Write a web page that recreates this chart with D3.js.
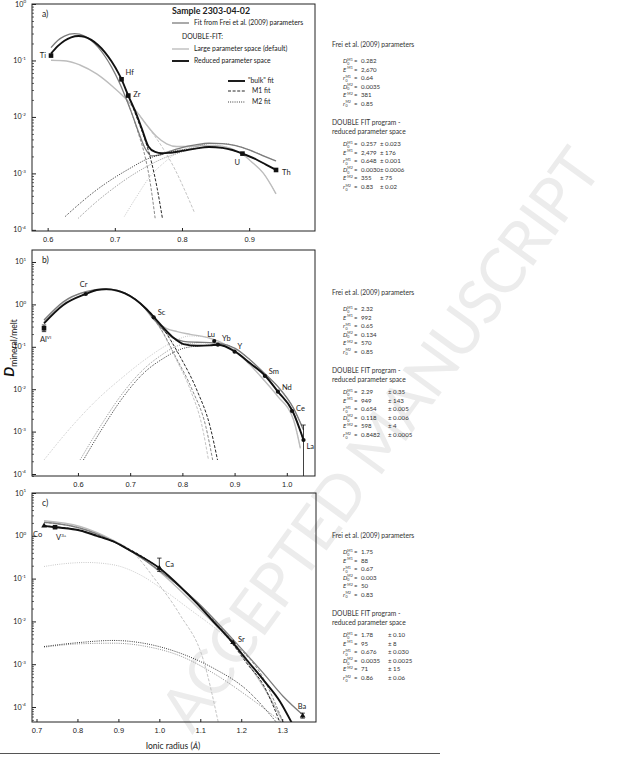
<!DOCTYPE html>
<html>
<head>
<meta charset="utf-8">
<script src="https://cdn.jsdelivr.net/npm/d3@7/dist/d3.min.js"></script>
<style>
  body { margin: 0; background: #fff; }
  svg { font-family: Lato, 'Liberation Sans', sans-serif; }
</style>
</head>
<body>
<svg id="chart" width="631" height="759"></svg>
<script>
// Data: [ionic radius (A), D mineral/melt]
// ------------------------------------------------------------

// Panel a
const aElements = ['Ti', 'Hf', 'Zr', 'U', 'Th']
const aRadius = [0.605, 0.71, 0.72, 0.89, 0.94]
const aD = [0.122, 0.0464, 0.0239, 0.00224, 0.00115]

const aReducedBulk = [[0.605,0.132],[0.615,0.179],[0.625,0.224],[0.635,0.257],[0.646,0.271],[0.655,0.262],[0.665,0.232],[0.675,0.188],[0.685,0.141],[0.695,0.0967],[0.705,0.0609],[0.71,0.0464],[0.72,0.0239],[0.73,0.0129],[0.74,0.0063],[0.75,0.0030],[0.76,0.0024],[0.77,0.00228],[0.78,0.00231],[0.80,0.0025],[0.82,0.00275],[0.84,0.00294],[0.86,0.00283],[0.875,0.0026],[0.89,0.00224],[0.91,0.00178],[0.925,0.00143],[0.94,0.00115]]
const aFreiBulk = [[0.605,0.169],[0.615,0.226],[0.625,0.27],[0.64,0.298],[0.655,0.27],[0.665,0.226],[0.675,0.172],[0.685,0.12],[0.695,0.0769],[0.705,0.045],[0.715,0.024],[0.725,0.0118],[0.735,0.0055],[0.745,0.00279],[0.755,0.00204],[0.765,0.0021],[0.78,0.00243],[0.80,0.00287],[0.82,0.00319],[0.84,0.00342],[0.86,0.00337],[0.88,0.00311],[0.90,0.0026],[0.92,0.00207],[0.94,0.00166]]
const aLargeBulk = [[0.605,0.1007],[0.628,0.098],[0.648,0.0832],[0.673,0.0577],[0.698,0.0335],[0.718,0.02],[0.7325,0.0124],[0.7474,0.00721],[0.7623,0.00449],[0.7772,0.00333],[0.792,0.00299],[0.812,0.00299],[0.832,0.00311],[0.852,0.00311],[0.8715,0.00279],[0.89,0.00218],[0.906,0.00151],[0.921,0.00101],[0.94,0.000434]]
const aReducedM1 = [[0.72,0.0239],[0.735,0.00827],[0.745,0.00392],[0.755,0.00151],[0.763,0.000546],[0.7708,0.000161]]
const aFreiM1 = [[0.715,0.024],[0.725,0.0118],[0.735,0.00514],[0.745,0.00199],[0.752,0.000767],[0.76,0.000161]]
const aLargeM1 = [[0.735,0.0115],[0.7474,0.00721],[0.77,0.00299],[0.79,0.00115],[0.805,0.000477],[0.819,0.000197]]
const aReducedM2 = [[0.626,0.000172],[0.6485,0.000297],[0.673,0.000511],[0.698,0.00082],[0.7226,0.00123],[0.7474,0.00178],[0.7722,0.00221],[0.797,0.0026],[0.82,0.00275],[0.84,0.00294],[0.86,0.00283],[0.89,0.00224],[0.94,0.00115]]
const aFreiM2 = [[0.6457,0.000161],[0.673,0.000317],[0.698,0.000546],[0.7226,0.000879],[0.7474,0.00132],[0.7722,0.00185],[0.797,0.00234],[0.822,0.0030],[0.84,0.00335],[0.86,0.00337],[0.88,0.00311],[0.90,0.0026],[0.94,0.00166]]
const aLargeM2 = [[0.7142,0.000173],[0.7325,0.000389],[0.7524,0.000879],[0.7722,0.00151],[0.792,0.00228],[0.812,0.0029],[0.832,0.0031],[0.852,0.0031],[0.8715,0.00279],[0.89,0.00218],[0.906,0.00151],[0.921,0.00101],[0.94,0.000434]]

// Panel b
const bElements = ['Al', 'Cr', 'Sc', 'Lu', 'Yb', 'Y', 'Sm', 'Nd', 'Ce', 'La']
const bRadius = [0.535, 0.615, 0.745, 0.861, 0.868, 0.90, 0.958, 0.983, 1.01, 1.032]
const bD = [0.273, 1.76, 0.495, 0.137, 0.112, 0.0767, 0.0205, 0.00875, 0.00306, 0.000634]
const bErrors = {Al: [0.228, 0.327], La: [0.00001, 0.00143]}

const bReducedBulk = [[0.535,0.357],[0.572,0.968],[0.615,1.76],[0.636,2.19],[0.654,2.29],[0.675,2.11],[0.69,1.81],[0.71,1.30],[0.73,0.80],[0.746,0.495],[0.764,0.28],[0.783,0.164],[0.802,0.116],[0.828,0.106],[0.853,0.108],[0.869,0.112],[0.901,0.0767],[0.93,0.0407],[0.959,0.0205],[0.983,0.00875],[1.011,0.00306],[1.032,0.000634]]
const bFreiBulk = [[0.535,0.429],[0.572,1.16],[0.615,2.0],[0.65,2.32],[0.675,2.15],[0.69,1.85],[0.71,1.32],[0.73,0.78],[0.745,0.46],[0.764,0.25],[0.783,0.16],[0.802,0.135],[0.828,0.128],[0.853,0.125],[0.872,0.12],[0.901,0.092],[0.93,0.0489],[0.956,0.0245],[0.983,0.0115],[1.013,0.00354],[1.032,0.00109]]
const bLargeBulk = [[0.535,0.39],[0.572,1.1],[0.615,1.95],[0.655,2.2],[0.68,2.0],[0.70,1.6],[0.72,1.05],[0.746,0.43],[0.77,0.27],[0.79,0.228],[0.815,0.197],[0.847,0.167],[0.869,0.136],[0.901,0.08],[0.93,0.037],[0.956,0.0165],[0.983,0.0067],[1.013,0.00188],[1.026,0.000403]]
const bReducedM1 = [[0.746,0.495],[0.764,0.258],[0.7957,0.0585],[0.8277,0.00957],[0.8532,0.0013],[0.8673,0.000214]]
const bFreiM1 = [[0.745,0.46],[0.76,0.25],[0.787,0.0585],[0.819,0.00957],[0.845,0.0013],[0.858,0.000214]]
const bLargeM1 = [[0.746,0.43],[0.76,0.24],[0.785,0.06],[0.815,0.0098],[0.838,0.0013],[0.85,0.000214]]
const bReducedM2 = [[0.6104,0.000214],[0.6487,0.0013],[0.6871,0.00667],[0.7254,0.0237],[0.7638,0.0535],[0.8021,0.092],[0.8404,0.107],[0.869,0.11],[0.901,0.0767],[0.93,0.0407],[0.959,0.0205],[0.983,0.00875],[1.011,0.00306],[1.032,0.000634]]
const bFreiM2 = [[0.604,0.000214],[0.6424,0.0013],[0.6807,0.00667],[0.719,0.0245],[0.7574,0.0607],[0.7957,0.11],[0.834,0.125],[0.853,0.125],[0.872,0.12],[0.901,0.092],[0.93,0.0489],[0.956,0.0245],[0.983,0.0115],[1.013,0.00354],[1.032,0.00109]]
const bLargeM2 = [[0.535,0.000214],[0.5848,0.00119],[0.636,0.00556],[0.6871,0.0198],[0.7318,0.0535],[0.7765,0.12],[0.8149,0.18],[0.847,0.167],[0.869,0.136],[0.901,0.08],[0.93,0.037],[0.956,0.0165],[0.983,0.0067],[1.013,0.00188],[1.026,0.000403]]

// Panel c
const cElements = ['Co', 'V', 'Ca', 'Sr', 'Ba']
const cRadius = [0.7185, 0.7453, 1.0, 1.18, 1.35]
const cD = [1.71, 1.59, 0.176, 0.00322, 0.0000623]
const cErrors = {V: [1.5, 1.68], Ca: [0.147, 0.301], Ba: [0.000055, 0.000072]}

const cReducedBulk = [[0.7185,1.71],[0.7453,1.59],[0.8063,1.33],[0.847,1.0],[0.8877,0.737],[0.9284,0.454],[1.0,0.176],[1.0504,0.0655],[1.0911,0.0267],[1.1318,0.00996],[1.179,0.00322],[1.2132,0.00127],[1.2539,0.000432],[1.2946,0.000135],[1.323,0.0000435]]
const cFreiBulk = [[0.7185,2.05],[0.7453,1.95],[0.8063,1.51],[0.8877,0.737],[1.0,0.155],[1.0911,0.0292],[1.179,0.00385],[1.2539,0.000618],[1.3027,0.000176],[1.3474,0.0000693]]
const cLargeBulk = [[0.7185,2.24],[0.8063,1.65],[0.8877,0.778],[1.0,0.147],[1.0911,0.0223],[1.179,0.0031],[1.2539,0.000302],[1.3027,0.0000435]]
const cReducedM1 = [[0.7185,1.7],[0.8063,1.33],[0.8877,0.73],[1.0,0.174],[1.0911,0.0262],[1.179,0.003],[1.2132,0.00106],[1.2539,0.00033],[1.2946,0.0000435]]
const cFreiM1 = [[0.7185,2.05],[0.8063,1.51],[0.8877,0.737],[1.0,0.153],[1.0911,0.0285],[1.179,0.0035],[1.2539,0.000472],[1.3027,0.0000435]]
const cLargeM1 = [[0.7185,2.12],[0.8063,1.51],[0.8714,0.882],[0.9284,0.471],[0.9935,0.0857],[1.0504,0.0143],[1.1074,0.00127],[1.144,0.0000435]]
const cReducedM2 = [[0.7185,0.00259],[0.8063,0.00322],[0.8877,0.00359],[0.969,0.003],[1.0504,0.00182],[1.1318,0.00081],[1.2132,0.000252],[1.2864,0.0000435]]
const cFreiM2 = [[0.7185,0.0025],[0.8063,0.003],[0.8877,0.0031],[0.969,0.00259],[1.0504,0.00157],[1.1318,0.000618],[1.2132,0.000185],[1.30,0.0000435]]
const cLargeM2 = [[0.7185,0.192],[0.7657,0.222],[0.8226,0.238],[0.8877,0.21],[0.9528,0.123],[1.0098,0.0547],[1.0749,0.019],[1.14,0.0065],[1.179,0.0031],[1.2539,0.000302],[1.3027,0.0000435]]

// Fit parameters shown to the right of each panel
const paramSymbols = [['D','M1'], ['E','M1'], ['r','M1'], ['D','M2'], ['E','M2'], ['r','M2']]
const aFreiParams = ['0.282', '2,670', '0.64', '0.0035', '381', '0.85']
const aFitParams = ['0.257', '2,479', '0.648', '0.0030', '355', '0.83']
const aFitErrors = ['0.023', '176', '0.001', '0.0006', '75', '0.02']
const bFreiParams = ['2.32', '992', '0.65', '0.134', '570', '0.85']
const bFitParams = ['2.29', '949', '0.654', '0.118', '598', '0.8482']
const bFitErrors = ['0.35', '143', '0.005', '0.006', '4', '0.0005']
const cFreiParams = ['1.75', '88', '0.67', '0.003', '50', '0.83']
const cFitParams = ['1.78', '95', '0.676', '0.0035', '71', '0.86']
const cFitErrors = ['0.10', '8', '0.030', '0.0025', '15', '0.06']

// Styles
// ------
const fitStyle = {
  large: {color: '#bdbdbd', width: 1.4},
  frei: {color: '#7c7c7c', width: 1.3},
  reduced: {color: '#111', width: 1.9}
}
const partStyle = {
  bulk: null,
  M1: '3,1.6',
  M2: '0.9,1.3'
}

const svg = d3.select('#chart')

// Watermark of the accepted manuscript
svg.append('text')
  .attr('transform', 'translate(398,452) rotate(-54)')
  .attr('text-anchor', 'middle')
  .attr('font-size', 62)
  .attr('textLength', 700)
  .attr('lengthAdjust', 'spacing')
  .style('fill', '#ececec')
  .text('ACCEPTED MANUSCRIPT')

/**
 * Draw one panel: frame, log axis, fit curves and measured points
 */
function drawPanel(cfg) {
  const x = d3.scaleLinear().domain(cfg.rDomain).range([cfg.x0, cfg.x1])
  const y = d3.scaleLog().domain(cfg.dDomain).range([cfg.y1, cfg.y0])
  const g = svg.append('g')

  const clipId = 'clip-' + cfg.tag
  svg.append('clipPath').attr('id', clipId)
    .append('rect')
    .attr('x', cfg.x0).attr('y', cfg.y0)
    .attr('width', cfg.x1 - cfg.x0).attr('height', cfg.y1 - cfg.y0)

  const line = d3.line()
    .x(d => x(d[0]))
    .y(d => y(d[1]))
    .curve(d3.curveMonotoneX)

  const curves = g.append('g').attr('clip-path', 'url(#' + clipId + ')')
  cfg.curves.forEach(([data, fit, part]) => {
    const s = fitStyle[fit]
    curves.append('path')
      .attr('d', line(data))
      .attr('fill', 'none')
      .attr('stroke', s.color)
      .attr('stroke-width', part === 'bulk' ? s.width : 0.9)
      .attr('stroke-dasharray', partStyle[part])
  })

  // error bars
  const bars = g.append('g').attr('clip-path', 'url(#' + clipId + ')')
  Object.keys(cfg.errors || {}).forEach(el => {
    const i = cfg.elements.indexOf(el)
    const px = x(cfg.radius[i])
    const [lo, hi] = cfg.errors[el]
    bars.append('line')
      .attr('x1', px).attr('x2', px)
      .attr('y1', y(lo)).attr('y2', y(hi))
      .attr('stroke', '#111').attr('stroke-width', 0.8)
    ;[lo, hi].forEach(v => {
      bars.append('line')
        .attr('x1', px - 2.2).attr('x2', px + 2.2)
        .attr('y1', y(v)).attr('y2', y(v))
        .attr('stroke', '#111').attr('stroke-width', 0.8)
    })
  })

  // markers and element labels
  cfg.elements.forEach((el, i) => {
    const px = x(cfg.radius[i])
    const py = y(cfg.d[i])
    const shape = cfg.marker(el)
    if (shape === 'square') {
      g.append('rect')
        .attr('x', px - 2.3).attr('y', py - 2.3)
        .attr('width', 4.6).attr('height', 4.6)
        .attr('fill', '#111')
    } else if (shape === 'circle') {
      g.append('circle')
        .attr('cx', px).attr('cy', py).attr('r', 2.1)
        .attr('fill', '#111')
    } else {
      g.append('path')
        .attr('d', d3.symbol(d3.symbolTriangle, 14)())
        .attr('transform', 'translate(' + px + ',' + py + ')')
        .attr('fill', '#111')
    }
    const [dx, dy, anchor] = cfg.labelOffsets[el]
    const t = g.append('text')
      .attr('x', px + dx).attr('y', py + dy)
      .attr('text-anchor', anchor || 'start')
      .attr('font-size', 7.5)
      .style('fill', '#222')
      .text(el)
    if (cfg.labelSup && cfg.labelSup[el]) {
      t.append('tspan').attr('font-size', 4.5).attr('dy', -3).text(cfg.labelSup[el])
    }
  })

  // frame
  g.append('rect')
    .attr('x', cfg.x0).attr('y', cfg.y0)
    .attr('width', cfg.x1 - cfg.x0).attr('height', cfg.y1 - cfg.y0)
    .attr('fill', 'none').attr('stroke', '#222').attr('stroke-width', 1)

  // x axis, ticks pointing inward
  const xAxis = d3.axisBottom(x)
    .tickValues(cfg.xTicks)
    .tickFormat(d3.format('.1f'))
    .tickSizeInner(-3)
    .tickSizeOuter(0)
    .tickPadding(6)
  const xg = g.append('g')
    .attr('transform', 'translate(0,' + cfg.y1 + ')')
    .call(xAxis)
  xg.select('.domain').remove()
  xg.selectAll('text').attr('font-size', 7.5).style('fill', '#222')
  xg.selectAll('line').attr('stroke', '#222')

  // y axis: decades and minor ticks
  const lo = Math.log10(cfg.dDomain[0])
  const hi = Math.log10(cfg.dDomain[1])
  const minor = []
  for (let e = Math.floor(lo); e <= Math.ceil(hi); e++) {
    for (let k = 2; k <= 9; k++) {
      const v = k * Math.pow(10, e)
      if (Math.log10(v) > lo && Math.log10(v) < hi) minor.push(v)
    }
  }
  const yMinor = d3.axisLeft(y).tickValues(minor).tickFormat('').tickSizeInner(-2).tickSizeOuter(0)
  const ym = g.append('g').attr('transform', 'translate(' + cfg.x0 + ',0)').call(yMinor)
  ym.select('.domain').remove()
  ym.selectAll('line').attr('stroke', '#222').attr('stroke-width', 0.7)

  const majors = cfg.decades.map(e => Math.pow(10, e))
  const yMajor = d3.axisLeft(y).tickValues(majors).tickFormat('').tickSizeInner(-4).tickSizeOuter(0)
  const yM = g.append('g').attr('transform', 'translate(' + cfg.x0 + ',0)').call(yMajor)
  yM.select('.domain').remove()
  yM.selectAll('line').attr('stroke', '#222')

  cfg.decades.forEach(e => {
    const t = g.append('text')
      .attr('x', cfg.x0 - 6)
      .attr('y', y(Math.pow(10, e)) + 2.5)
      .attr('text-anchor', 'end')
      .attr('font-size', 7.2)
      .style('fill', '#222')
    t.append('tspan').text('10')
    t.append('tspan').attr('font-size', 4.5).attr('dy', -3.2).text(String(e))
  })

  g.append('text')
    .attr('x', cfg.x0 + 10).attr('y', cfg.y0 + 13)
    .attr('font-size', 8.5).style('fill', '#222')
    .text(cfg.tag + ')')
}

const curveSet = (large, frei, reduced) => [
  [large[1], 'large', 'M1'], [large[2], 'large', 'M2'], [large[0], 'large', 'bulk'],
  [frei[1], 'frei', 'M1'], [frei[2], 'frei', 'M2'], [frei[0], 'frei', 'bulk'],
  [reduced[1], 'reduced', 'M1'], [reduced[2], 'reduced', 'M2'], [reduced[0], 'reduced', 'bulk']
]

drawPanel({
  tag: 'a', x0: 32, x1: 315, y0: 4, y1: 231,
  rDomain: [0.5767, 0.998], dDomain: [Math.pow(10, -4.02), 1],
  xTicks: [0.6, 0.7, 0.8, 0.9], decades: [0, -1, -2, -3, -4],
  curves: curveSet([aLargeBulk, aLargeM1, aLargeM2], [aFreiBulk, aFreiM1, aFreiM2], [aReducedBulk, aReducedM1, aReducedM2]),
  elements: aElements, radius: aRadius, d: aD,
  marker: () => 'square',
  labelOffsets: {Ti: [-5, 2.5, 'end'], Hf: [4, -4.5], Zr: [5, 1.5], U: [-8, 11.5], Th: [6, 5.5]}
})

drawPanel({
  tag: 'b', x0: 32, x1: 315, y0: 250, y1: 476,
  rDomain: [0.512, 1.054], dDomain: [Math.pow(10, -4.047), Math.pow(10, 1.283)],
  xTicks: [0.6, 0.7, 0.8, 0.9, 1.0], decades: [1, 0, -1, -2, -3, -4],
  curves: curveSet([bLargeBulk, bLargeM1, bLargeM2], [bFreiBulk, bFreiM1, bFreiM2], [bReducedBulk, bReducedM1, bReducedM2]),
  elements: bElements, radius: bRadius, d: bD, errors: bErrors,
  marker: el => el === 'Al' ? 'square' : 'circle',
  labelSup: {Al: 'VI'},
  labelOffsets: {Al: [-4, 13.5], Cr: [-6, -6.5], Sc: [4, -2.5], Lu: [-7, -4.5], Yb: [4, -3.5], Y: [3, -2.5], Sm: [4, -1.5], Nd: [4, -1.5], Ce: [4, -0.5], La: [3, 9.5]}
})

drawPanel({
  tag: 'c', x0: 32, x1: 316, y0: 493, y1: 722,
  rDomain: [0.689, 1.3826], dDomain: [Math.pow(10, -4.35), 10],
  xTicks: [0.7, 0.8, 0.9, 1.0, 1.1, 1.2, 1.3], decades: [1, 0, -1, -2, -3, -4],
  curves: curveSet([cLargeBulk, cLargeM1, cLargeM2], [cFreiBulk, cFreiM1, cFreiM2], [cReducedBulk, cReducedM1, cReducedM2]),
  elements: cElements, radius: cRadius, d: cD, errors: cErrors,
  marker: el => el === 'V' ? 'square' : 'triangle',
  labelSup: {V: '3+'},
  labelOffsets: {Co: [-11, 11.5], V: [1, 12.5], Ca: [6, -1.5], Sr: [5, -0.5], Ba: [-5, -6.5]}
})

// Axis titles
const yTitle = svg.append('text')
  .attr('transform', 'translate(14,348) rotate(-90)')
  .attr('text-anchor', 'middle')
  .style('fill', '#111')
yTitle.append('tspan').attr('font-size', 14).attr('font-weight', 'bold').attr('font-style', 'italic').text('D')
yTitle.append('tspan').attr('font-size', 8.5).attr('dy', 2.5).text('mineral/melt')

const xTitle = svg.append('text')
  .attr('x', 173).attr('y', 749)
  .attr('text-anchor', 'middle')
  .attr('font-size', 8.5)
  .style('fill', '#222')
xTitle.append('tspan').text('Ionic radius (')
xTitle.append('tspan').attr('font-style', 'italic').text('Å')
xTitle.append('tspan').text(')')

svg.append('line')
  .attr('x1', 0).attr('x2', 440).attr('y1', 753.5).attr('y2', 753.5)
  .attr('stroke', '#555').attr('stroke-width', 1)

// Legend in panel a
const legend = svg.append('g').style('fill', '#222').attr('font-size', 6.8)
legend.append('text').attr('x', 172).attr('y', 14)
  .attr('font-size', 8.8).attr('font-weight', 'bold').text('Sample 2303-04-02')
const legendRows = [
  {y: 23, fit: 'frei', label: 'Fit from Frei et al. (2009) parameters'},
  {y: 49, fit: 'large', label: 'Large parameter space (default)'},
  {y: 61, fit: 'reduced', label: 'Reduced parameter space'}
]
legendRows.forEach(r => {
  legend.append('line').attr('x1', 172).attr('x2', 189).attr('y1', r.y).attr('y2', r.y)
    .attr('stroke', fitStyle[r.fit].color).attr('stroke-width', fitStyle[r.fit].width)
  legend.append('text').attr('x', 194).attr('y', r.y + 2.3).text(r.label)
})
legend.append('text').attr('x', 182).attr('y', 39).text('DOUBLE-FIT:')
const partRows = [
  {y: 81, part: 'bulk', label: '"bulk" fit', x: 248},
  {y: 91, part: 'M1', label: 'M1 fit', x: 252},
  {y: 102, part: 'M2', label: 'M2 fit', x: 252}
]
partRows.forEach(r => {
  legend.append('line').attr('x1', 228).attr('x2', 245).attr('y1', r.y).attr('y2', r.y)
    .attr('stroke', '#111').attr('stroke-width', r.part === 'bulk' ? 1.9 : 0.9)
    .attr('stroke-dasharray', partStyle[r.part])
  legend.append('text').attr('x', r.x).attr('y', r.y + 2.3).text(r.label)
})

/**
 * Parameter listing next to a panel
 */
function drawParams(top, rows1, rows2, errors, pmX) {
  const g = svg.append('g').style('fill', '#333').attr('font-size', 6.1)
  g.append('text').attr('x', 332).attr('y', top).attr('font-size', 6.7).text('Frei et al. (2009) parameters')
  const row = (y, i, value, err) => {
    const [letter, sup] = paramSymbols[i]
    g.append('text').attr('x', 343).attr('y', y).attr('font-style', 'italic').text(letter)
    const w = letter === 'r' ? 2.4 : 4.3
    if (letter !== 'E') {
      g.append('text').attr('x', 343 + w).attr('y', y + 1.7).attr('font-size', 3.6).text('0')
    }
    g.append('text').attr('x', 343 + w).attr('y', y - 2.5).attr('font-size', 3.6).text(sup)
    g.append('text').attr('x', 354).attr('y', y).text('=')
    g.append('text').attr('x', 361).attr('y', y).text(value)
    if (err !== undefined) {
      g.append('text').attr('x', pmX).attr('y', y).text('± ' + err)
    }
  }
  rows1.forEach((v, i) => row(top + 16 + i * 8.5, i, v))
  const t2 = top + 78
  g.append('text').attr('x', 332).attr('y', t2).attr('font-size', 6.7).text('DOUBLE FIT program -')
  g.append('text').attr('x', 332).attr('y', t2 + 9).attr('font-size', 6.7).text('reduced parameter space')
  rows2.forEach((v, i) => row(t2 + 21 + i * 8.6, i, v, errors[i]))
}

drawParams(47, aFreiParams, aFitParams, aFitErrors, 380)
drawParams(295, bFreiParams, bFitParams, bFitErrors, 388)
drawParams(538, cFreiParams, cFitParams, cFitErrors, 388)
</script>
</body>
</html>
